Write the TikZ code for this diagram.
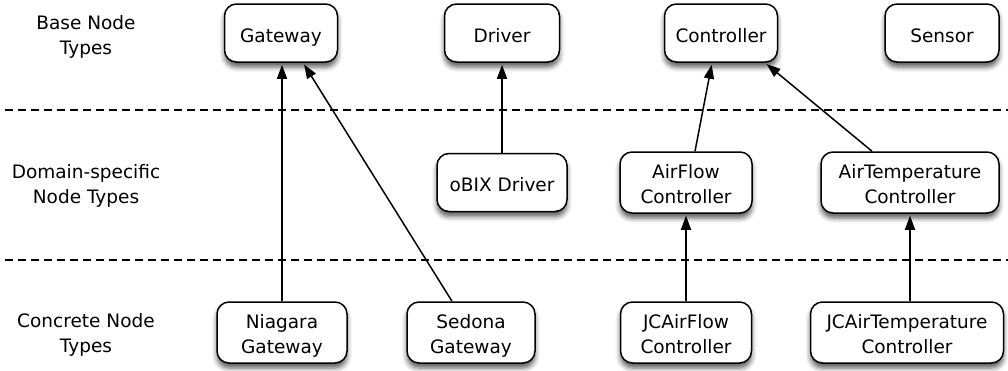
\documentclass[tikz,border=0pt]{standalone}
\usepackage{fontspec}
\setmainfont{DejaVu Sans}
\usetikzlibrary{arrows.meta,shadows.blur}

\begin{document}
\begin{tikzpicture}[x=1pt,y=-1pt,
    typebox/.style={draw, line width=1.5pt, rounded corners=12pt, fill=white,
      minimum height=58pt, inner sep=6pt, align=center,
      font=\fontsize{18.5}{25}\selectfont,
      blur shadow={shadow xshift=0pt, shadow yshift=-5pt, shadow blur radius=5pt, shadow opacity=65}},
    oneline/.style={text height=21pt, text depth=3pt},
    twoline/.style={text height=45pt, text depth=4pt},
    levellabel/.style={align=center, font=\fontsize{18.5}{25}\selectfont},
    inherits/.style={line width=1.5pt, -{Triangle[length=14pt,width=10pt]}, shorten >=2pt},
    layerline/.style={line width=1.4pt, dash pattern=on 8pt off 5pt}]
  \useasboundingbox (0,0) rectangle (1008,370);

  % Layer separators
  \foreach \y in {110,260}
    \draw[layerline] (5,\y) -- (1008,\y);

  % Layer names
  \node[levellabel] (baselbl) at (86,37) {Base Node\\Types};
  \node[levellabel] (domainlbl) at (86,186) {Domain-specific\\Node Types};
  \node[levellabel] (concretelbl) at (86,335) {Concrete Node\\Types};

  % Base node types
  \node[typebox, oneline, minimum width=113pt] (gateway) at (281,33) {Gateway};
  \node[typebox, oneline, minimum width=115pt] (driver) at (502,33) {Driver};
  \node[typebox, oneline, minimum width=113pt] (controller) at (721,33) {Controller};
  \node[typebox, oneline, minimum width=114pt] (sensor) at (942,33) {Sensor};

  % Domain-specific node types
  \node[typebox, oneline, minimum width=130pt] (obix) at (502,182.5) {oBIX Driver};
  \node[typebox, twoline, minimum width=132pt] (airflow) at (686,182.5) {AirFlow\\Controller};
  \node[typebox, twoline, minimum width=178pt] (airtemp) at (910,182.5) {AirTemperature\\Controller};

  % Concrete node types
  \node[typebox, twoline, minimum width=130pt] (niagara) at (282,332.5) {Niagara\\Gateway};
  \node[typebox, twoline, minimum width=128pt] (sedona) at (471,332.5) {Sedona\\Gateway};
  \node[typebox, twoline, minimum width=131pt] (jcairflow) at (686,332.5) {JCAirFlow\\Controller};
  \node[typebox, twoline, minimum width=193pt] (jcairtemp) at (907,332.5) {JCAirTemperature\\Controller};

  % Inheritance arrows
  \draw[inherits] (niagara.north) -- (niagara.north |- gateway.south);
  \draw[inherits] ([xshift=-19pt]sedona.north) -- ([xshift=22pt]gateway.south);
  \draw[inherits] (obix.north) -- (driver.south);
  \draw[inherits] ([xshift=9pt]airflow.north) -- ([xshift=-9pt]controller.south);
  \draw[inherits] ([xshift=-38pt]airtemp.north) -- ([xshift=44pt]controller.south);
  \draw[inherits] (jcairflow.north) -- (airflow.south);
  \draw[inherits] (jcairtemp.north -| airtemp.south) -- (airtemp.south);
\end{tikzpicture}
\end{document}
